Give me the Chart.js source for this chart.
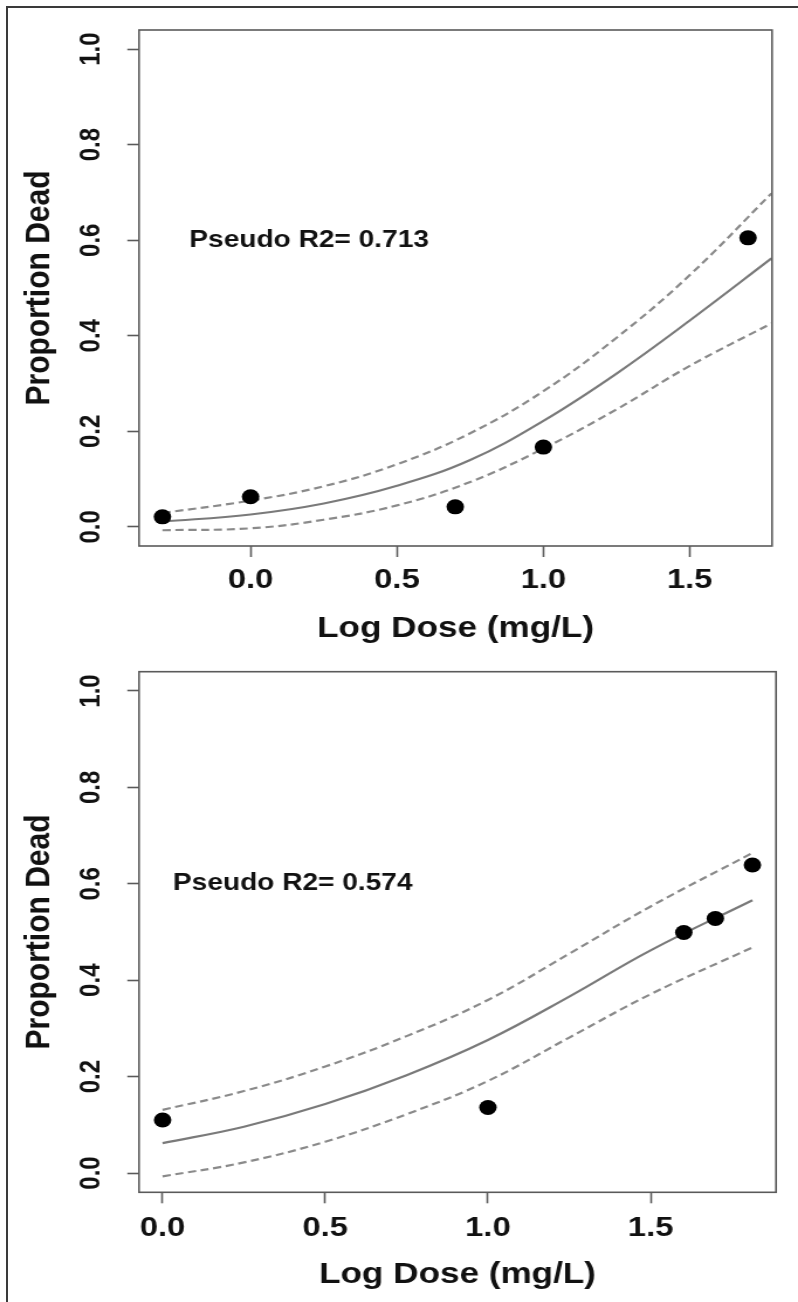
<!DOCTYPE html>
<html>
<head>
<meta charset="utf-8">
<script src="https://cdn.jsdelivr.net/npm/chart.js@4.4.1/dist/chart.umd.min.js"></script>
<style>
  html, body { margin: 0; padding: 0; background: #fff; overflow: hidden; }
  #page { position: relative; width: 798px; height: 1302px; background: #fff; }
  canvas { position: absolute; left: 0; transform-origin: 0 0; transform: scaleX(1.1701); }
  #c1 { top: 0; }
  #c2 { top: 650px; }
  #frame { position: absolute; left: 6px; top: 6px; right: -10px; bottom: -10px;
           border-left: 2px solid #3a3a3a; border-top: 2px solid #3a3a3a; pointer-events: none; }
</style>
</head>
<body>
<div id="page">
  <canvas id="c1" width="682" height="650"></canvas>
  <canvas id="c2" width="682" height="652"></canvas>
  <div id="frame"></div>
</div>
<script>
// Tick values shared by both panels
const yTicks = [0.0, 0.2, 0.4, 0.6, 0.8, 1.0];
const xTicks = [0.0, 0.5, 1.0, 1.5];

// Panel 1: observed mortality and fitted probit curve with confidence band
const dose1 = [-0.301, 0.0, 0.699, 1.0, 1.699];
const dead1 = [0.021, 0.063, 0.042, 0.167, 0.605];
const curveX1 = [-0.301, 0.0, 0.25, 0.5, 0.75, 1.0, 1.25, 1.5, 1.779];
const fit1   = [0.011, 0.026, 0.049, 0.086, 0.140, 0.222, 0.321, 0.432, 0.562];
const upper1 = [0.029, 0.055, 0.085, 0.131, 0.196, 0.284, 0.396, 0.527, 0.698];
const lower1 = [-0.007, -0.003, 0.015, 0.045, 0.094, 0.164, 0.246, 0.337, 0.426];
const r2Label1 = 'Pseudo R2= 0.713';

// Panel 2
const dose2 = [0.0, 1.0, 1.602, 1.699, 1.813];
const dead2 = [0.110, 0.136, 0.499, 0.528, 0.639];
const curveX2 = [0.0, 0.25, 0.5, 0.75, 1.0, 1.25, 1.5, 1.813];
const fit2   = [0.062, 0.096, 0.143, 0.203, 0.276, 0.366, 0.462, 0.566];
const upper2 = [0.131, 0.170, 0.221, 0.284, 0.359, 0.455, 0.553, 0.664];
const lower2 = [-0.007, 0.022, 0.065, 0.122, 0.191, 0.281, 0.371, 0.468];
const r2Label2 = 'Pseudo R2= 0.574';

const FAMILY = '"Liberation Sans", Arial, Helvetica, sans-serif';
const INK = '#111111';
Chart.defaults.color = INK;
Chart.defaults.font.family = FAMILY;

const pts = (xs, ys) => xs.map((x, i) => ({ x: x, y: ys[i] }));

// Draws the closed plot frame and the R2 note placed in data units
const plotFrame = {
  id: 'plotFrame',
  afterDatasetsDraw(chart, args, opts) {
    const { ctx, chartArea: a, scales } = chart;
    ctx.save();
    ctx.strokeStyle = '#5a5a5a';
    ctx.lineWidth = 1.6;
    ctx.strokeRect(a.left, a.top, a.right - a.left, a.bottom - a.top);
    ctx.fillStyle = INK;
    ctx.font = 'bold 24px ' + FAMILY;
    ctx.textAlign = 'center';
    ctx.textBaseline = 'middle';
    ctx.fillText(opts.text, scales.x.getPixelForValue(opts.at[0]), scales.y.getPixelForValue(opts.at[1]));
    ctx.restore();
  }
};

function makeChart(canvasId, data, g) {
  const dashed = {
    showLine: true, pointRadius: 0, borderColor: '#8a8a8a', borderWidth: 2.2,
    borderDash: [7, 4], tension: 0.4, fill: false
  };
  return new Chart(document.getElementById(canvasId), {
    type: 'scatter',
    data: {
      datasets: [
        { label: 'Observed', data: pts(data.dose, data.dead), pointRadius: 7.5, pointHoverRadius: 7.5,
          backgroundColor: '#000', borderColor: '#000', borderWidth: 0, showLine: false },
        Object.assign({ label: 'Upper', data: pts(data.cx, data.upper) }, dashed),
        Object.assign({ label: 'Lower', data: pts(data.cx, data.lower) }, dashed),
        { label: 'Fit', data: pts(data.cx, data.fit), showLine: true, pointRadius: 0,
          borderColor: '#7a7a7a', borderWidth: 2.2, tension: 0.4, fill: false }
      ]
    },
    options: {
      responsive: false,
      animation: false,
      devicePixelRatio: 1,
      events: [],
      layout: { padding: { left: 0, top: g.top, right: g.right, bottom: 0 } },
      plugins: {
        legend: { display: false },
        tooltip: { enabled: false },
        plotFrame: { text: data.note, at: data.noteAt }
      },
      scales: {
        x: {
          type: 'linear', position: 'bottom', min: data.xMin, max: data.xMax,
          afterBuildTicks: s => { s.ticks = xTicks.map(v => ({ value: v })); },
          ticks: {
            callback: v => Number(v).toFixed(1), autoSkip: false, maxRotation: 0, minRotation: 0,
            padding: g.xTickPad, color: INK, font: { family: FAMILY, size: 28, weight: 'bold' }
          },
          grid: { display: true, drawOnChartArea: false, drawTicks: true, tickLength: 11,
                  tickColor: '#5a5a5a', tickWidth: 1.6, color: '#5a5a5a' },
          border: { display: false },
          title: { display: true, text: 'Log Dose (mg/L)', color: INK,
                   font: { family: FAMILY, size: 30, weight: 'bold' }, padding: { top: 0, bottom: g.xTitlePad } },
          afterFit: s => { s.height = g.xAxisH; s.paddingLeft = 0; s.paddingRight = 0; }
        },
        y: {
          type: 'linear', position: 'left', min: -0.04, max: 1.04,
          afterBuildTicks: s => { s.ticks = yTicks.map(v => ({ value: v })); },
          ticks: {
            callback: v => Number(v).toFixed(1), autoSkip: false, minRotation: 90, maxRotation: 90,
            crossAlign: 'center', padding: 14, color: INK, font: { family: FAMILY, size: 24, weight: 'bold' }
          },
          grid: { display: true, drawOnChartArea: false, drawTicks: true, tickLength: 10,
                  tickColor: '#5a5a5a', tickWidth: 1.6, color: '#5a5a5a' },
          border: { display: false },
          title: { display: true, text: 'Proportion Dead', color: INK,
                   font: { family: FAMILY, size: 30, weight: 'bold' }, padding: { top: 16, bottom: 0 } },
          afterFit: s => { s.width = 118.8; s.paddingTop = 0; s.paddingBottom = 0; }
        }
      }
    },
    plugins: [plotFrame]
  });
}

makeChart('c1', {
  dose: dose1, dead: dead1, cx: curveX1, fit: fit1, upper: upper1, lower: lower1,
  xMin: -0.381, xMax: 1.781, note: r2Label1, noteAt: [0.2, 0.6]
}, { top: 30, right: 22.2, xAxisH: 104, xTickPad: 6, xTitlePad: 3 });

makeChart('c2', {
  dose: dose2, dead: dead2, cx: curveX2, fit: fit2, upper: upper2, lower: lower2,
  xMin: -0.0725, xMax: 1.8855, note: r2Label2, noteAt: [0.4, 0.6]
}, { top: 21.7, right: 18.8, xAxisH: 109.7, xTickPad: 8, xTitlePad: 9 });
</script>
</body>
</html>
